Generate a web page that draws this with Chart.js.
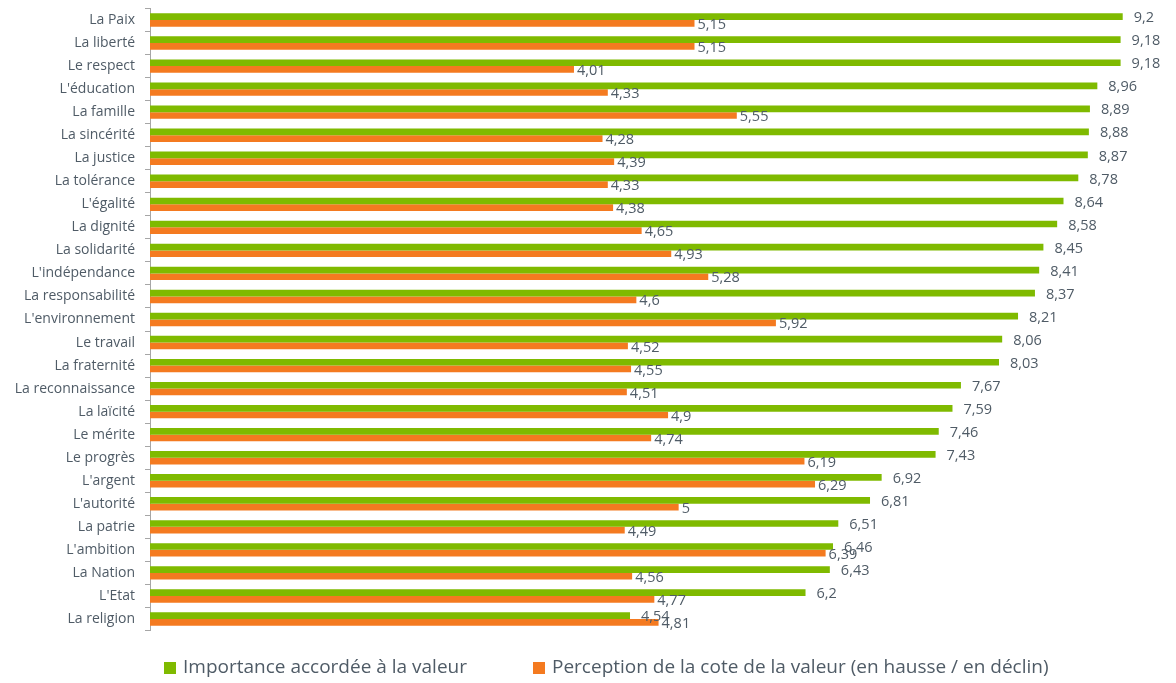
<!DOCTYPE html>
<html>
<head>
<meta charset="utf-8">
<script src="https://cdn.jsdelivr.net/npm/chart.js@4"></script>
<style>
  body { margin: 0; background: #fff; }
  #wrap { position: relative; width: 1176px; height: 683px; }
  .leg { position: absolute; top: 653px; font: 19px "Open Sans", sans-serif; color: #4F5B66; white-space: nowrap; }
  .leg span { display: inline-block; width: 12px; height: 12px; margin-right: 7px; vertical-align: -1px; }
</style>
</head>
<body>
<div id="wrap">
  <canvas id="chart"></canvas>
  <div class="leg" style="left:164px"><span style="background:#7FBA00"></span>Importance accordée à la valeur</div>
  <div class="leg" style="left:533px"><span style="background:#F47A20"></span>Perception de la cote de la valeur (en hausse / en déclin)</div>
</div>
<script>
// Categories and series
const categories = ['La Paix', 'La liberté', 'Le respect', "L'éducation", 'La famille', 'La sincérité',
  'La justice', 'La tolérance', "L'égalité", 'La dignité', 'La solidarité', "L'indépendance",
  'La responsabilité', "L'environnement", 'Le travail', 'La fraternité', 'La reconnaissance',
  'La laïcité', 'Le mérite', 'Le progrès', "L'argent", "L'autorité", 'La patrie', "L'ambition",
  'La Nation', "L'Etat", 'La religion'];

const importance = [9.2, 9.18, 9.18, 8.96, 8.89, 8.88, 8.87, 8.78, 8.64, 8.58, 8.45, 8.41, 8.37, 8.21,
  8.06, 8.03, 7.67, 7.59, 7.46, 7.43, 6.92, 6.81, 6.51, 6.46, 6.43, 6.2, 4.54];

const perception = [5.15, 5.15, 4.01, 4.33, 5.55, 4.28, 4.39, 4.33, 4.38, 4.65, 4.93, 5.28, 4.6, 5.92,
  4.52, 4.55, 4.51, 4.9, 4.74, 6.19, 6.29, 5, 4.49, 6.39, 4.56, 4.77, 4.81];

const seriesNames = ['Importance accordée à la valeur', 'Perception de la cote de la valeur (en hausse / en déclin)'];

const textColor = '#4F5B66';

// Value labels at the end of each bar, with a French decimal comma
const valueLabels = {
  id: 'valueLabels',
  afterDatasetsDraw(chart) {
    const ctx = chart.ctx;
    ctx.save();
    ctx.font = '14.5px "Open Sans", sans-serif';
    ctx.fillStyle = textColor;
    ctx.textBaseline = 'middle';
    chart.data.datasets.forEach((ds, i) => {
      const meta = chart.getDatasetMeta(i);
      const gap = i === 0 ? 11 : 3;
      meta.data.forEach((bar, j) => {
        const txt = String(ds.data[j]).replace('.', ',');
        ctx.fillText(txt, bar.x + gap, bar.y + 1.5);
      });
    });
    ctx.restore();
  }
};

const ctx = document.getElementById('chart').getContext('2d');
new Chart(ctx, {
  type: 'bar',
  data: {
    labels: categories,
    datasets: [{
      label: seriesNames[0],
      data: importance,
      backgroundColor: '#7FBA00'
    }, {
      label: seriesNames[1],
      data: perception,
      backgroundColor: '#F47A20'
    }]
  },
  options: {
    indexAxis: 'y',
    responsive: true,
    maintainAspectRatio: false,
    animation: false,
    categoryPercentage: 0.58,
    barPercentage: 1,
    layout: { padding: { top: 8.5, right: 11, bottom: 52.5, left: 0 } },
    plugins: {
      legend: { display: false },
      tooltip: { enabled: false }
    },
    scales: {
      x: { display: false, min: 0, max: 9.6 },
      y: {
        afterFit(scale) {
          scale.width = 150;
          scale.paddingTop = 0;
          scale.paddingBottom = 0;
        },
        grid: {
          offset: true,
          drawOnChartArea: false,
          color: '#A6A6A6',
          tickLength: 5
        },
        border: { color: '#A6A6A6' },
        ticks: {
          color: textColor,
          padding: 10,
          font: { family: '"Open Sans", sans-serif', size: 14 }
        }
      }
    }
  },
  plugins: [valueLabels]
});
</script>
</body>
</html>
